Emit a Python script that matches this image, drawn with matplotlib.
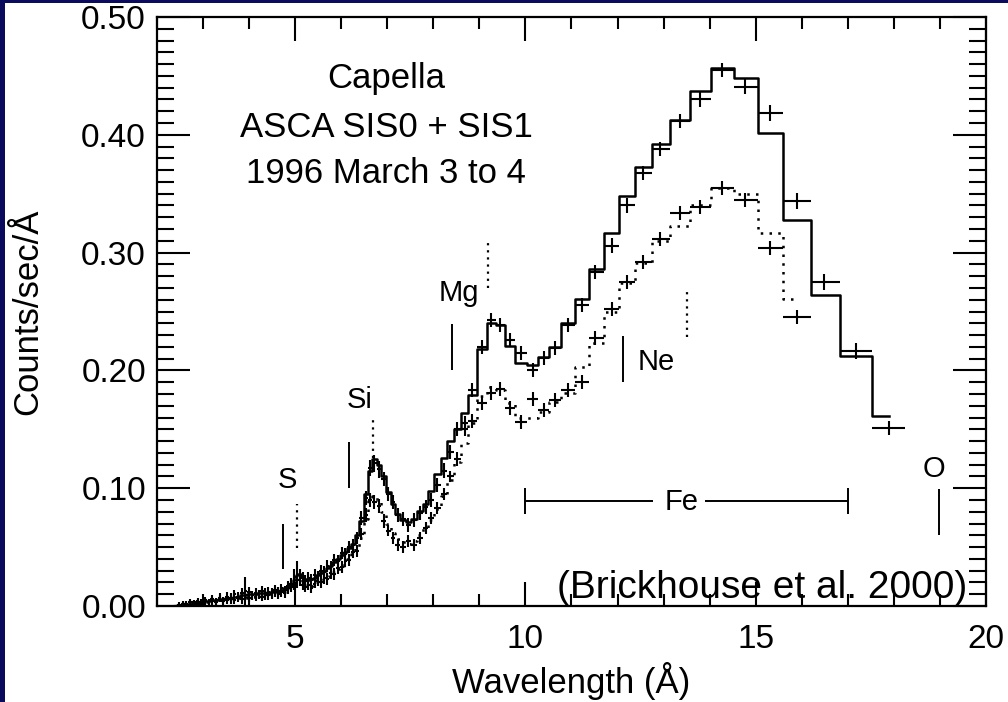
import numpy as np
import matplotlib.pyplot as plt
from matplotlib.patches import Rectangle

plt.rcParams['font.family'] = ['Liberation Sans', 'DejaVu Sans']

# bin centres (Angstrom)
wave = [2.40, 2.48, 2.56, 2.64, 2.72, 2.80, 2.88, 2.96, 3.04, 3.12,
        3.20, 3.28, 3.36, 3.44, 3.52, 3.60, 3.68, 3.76, 3.84, 3.92,
        4.00, 4.07, 4.14, 4.21, 4.28, 4.35, 4.42, 4.49, 4.56, 4.63,
        4.70, 4.77, 4.84, 4.91, 4.98, 5.04, 5.10, 5.16, 5.22, 5.28,
        5.35, 5.42, 5.49, 5.56, 5.63, 5.70, 5.77, 5.85, 5.93, 6.01,
        6.09, 6.17, 6.26, 6.35, 6.44, 6.53, 6.62, 6.72, 6.82, 6.92,
        7.02, 7.12, 7.23, 7.34, 7.46, 7.58, 7.70, 7.83, 7.96, 8.09,
        8.23, 8.37, 8.52, 8.68, 8.84, 9.06, 9.25, 9.45, 9.66, 9.90,
        10.16, 10.40, 10.64, 10.92, 11.23, 11.51, 11.88, 12.20, 12.55, 12.93,
        13.35, 13.78, 14.27, 14.77, 15.31, 15.89, 16.49, 17.17, 17.89]

# upper spectrum: data, errors, model
sis_hi = [0.000, 0.001, 0.002, 0.001, 0.003, 0.002, 0.004, 0.003, 0.005, 0.003,
          0.006, 0.004, 0.007, 0.005, 0.008, 0.006, 0.010, 0.007, 0.011, 0.013,
          0.012, 0.009, 0.011, 0.010, 0.013, 0.009, 0.012, 0.011, 0.014, 0.012,
          0.015, 0.013, 0.017, 0.019, 0.025, 0.030, 0.026, 0.024, 0.021, 0.024,
          0.022, 0.026, 0.025, 0.030, 0.029, 0.034, 0.033, 0.039, 0.038, 0.045,
          0.044, 0.050, 0.052, 0.058, 0.075, 0.092, 0.117, 0.121, 0.116, 0.108,
          0.095, 0.088, 0.077, 0.074, 0.069, 0.073, 0.079, 0.084, 0.090, 0.103,
          0.115, 0.131, 0.150, 0.155, 0.183, 0.220, 0.243, 0.2385, 0.226, 0.2148,
          0.200, 0.2105, 0.219, 0.2385, 0.2555, 0.2835, 0.306, 0.340, 0.3676, 0.388,
          0.4117, 0.430, 0.455, 0.441, 0.4185, 0.3438, 0.275, 0.2165, 0.151]
sis_hi_err = [0.001, 0.002, 0.002, 0.002, 0.003, 0.002, 0.003, 0.003, 0.003, 0.003,
              0.003, 0.003, 0.004, 0.003, 0.004, 0.004, 0.004, 0.004, 0.004, 0.012,
              0.004, 0.004, 0.004, 0.004, 0.004, 0.004, 0.004, 0.004, 0.004, 0.004,
              0.004, 0.004, 0.004, 0.005, 0.006, 0.008, 0.005, 0.005, 0.005, 0.005,
              0.005, 0.005, 0.005, 0.005, 0.005, 0.005, 0.005, 0.005, 0.005, 0.005,
              0.005, 0.005, 0.005, 0.005, 0.006, 0.006, 0.007, 0.007, 0.007, 0.006,
              0.006, 0.006, 0.006, 0.006, 0.006, 0.006, 0.006, 0.006, 0.006, 0.006,
              0.006, 0.006, 0.006, 0.006, 0.006, 0.006, 0.006, 0.006, 0.006, 0.006,
              0.006, 0.006, 0.006, 0.006, 0.006, 0.006, 0.006, 0.006, 0.006, 0.006,
              0.006, 0.006, 0.006, 0.006, 0.007, 0.007, 0.007, 0.007, 0.006]
model_hi = [0.000, 0.001, 0.001, 0.002, 0.002, 0.002, 0.003, 0.003, 0.004, 0.004,
            0.005, 0.005, 0.006, 0.006, 0.007, 0.007, 0.008, 0.008, 0.009, 0.009,
            0.010, 0.010, 0.010, 0.011, 0.011, 0.011, 0.012, 0.012, 0.013, 0.013,
            0.014, 0.015, 0.016, 0.018, 0.022, 0.026, 0.027, 0.025, 0.023, 0.022,
            0.023, 0.024, 0.026, 0.028, 0.030, 0.032, 0.034, 0.037, 0.040, 0.043,
            0.046, 0.049, 0.053, 0.060, 0.072, 0.095, 0.115, 0.1245, 0.120, 0.110,
            0.097, 0.087, 0.078, 0.073, 0.071, 0.074, 0.081, 0.087, 0.098, 0.112,
            0.126, 0.140, 0.150, 0.164, 0.179, 0.218, 0.240, 0.2385, 0.2207, 0.206,
            0.2045, 0.2115, 0.220, 0.240, 0.261, 0.286, 0.3166, 0.348, 0.3727, 0.392,
            0.4126, 0.437, 0.4567, 0.448, 0.4015, 0.3277, 0.264, 0.2122, 0.161]

# lower spectrum: data, errors, model (ends at 15.89 A)
sis_lo = [0.000, 0.000, 0.001, 0.002, 0.001, 0.003, 0.002, 0.002, 0.004, 0.003,
          0.004, 0.003, 0.006, 0.004, 0.005, 0.007, 0.005, 0.008, 0.006, 0.009,
          0.007, 0.009, 0.008, 0.010, 0.008, 0.011, 0.009, 0.010, 0.012, 0.010,
          0.012, 0.011, 0.014, 0.016, 0.019, 0.020, 0.022, 0.018, 0.016, 0.018,
          0.015, 0.019, 0.021, 0.020, 0.024, 0.023, 0.028, 0.027, 0.032, 0.033,
          0.038, 0.039, 0.046, 0.047, 0.061, 0.077, 0.090, 0.088, 0.085, 0.072,
          0.064, 0.058, 0.052, 0.050, 0.055, 0.052, 0.058, 0.066, 0.075, 0.083,
          0.095, 0.110, 0.125, 0.150, 0.157, 0.172, 0.181, 0.184, 0.168, 0.156,
          0.1757, 0.1664, 0.1749, 0.1834, 0.190, 0.2275, 0.252, 0.275, 0.292, 0.3115,
          0.3336, 0.3387, 0.3548, 0.3447, 0.304, 0.2453]
sis_lo_err = [0.001, 0.001, 0.002, 0.002, 0.002, 0.002, 0.003, 0.002, 0.003, 0.003,
              0.003, 0.003, 0.003, 0.003, 0.003, 0.004, 0.003, 0.004, 0.004, 0.004,
              0.004, 0.004, 0.004, 0.004, 0.004, 0.004, 0.004, 0.004, 0.004, 0.004,
              0.004, 0.004, 0.004, 0.004, 0.005, 0.005, 0.005, 0.004, 0.004, 0.004,
              0.004, 0.004, 0.004, 0.005, 0.005, 0.005, 0.005, 0.005, 0.005, 0.005,
              0.005, 0.005, 0.005, 0.005, 0.005, 0.006, 0.006, 0.006, 0.006, 0.006,
              0.005, 0.005, 0.005, 0.005, 0.005, 0.005, 0.005, 0.005, 0.005, 0.005,
              0.005, 0.005, 0.006, 0.006, 0.006, 0.006, 0.006, 0.006, 0.006, 0.006,
              0.006, 0.006, 0.006, 0.006, 0.006, 0.006, 0.006, 0.006, 0.006, 0.006,
              0.006, 0.006, 0.006, 0.006, 0.006, 0.006]
model_lo = [0.000, 0.001, 0.001, 0.001, 0.002, 0.002, 0.002, 0.003, 0.003, 0.003,
            0.004, 0.004, 0.005, 0.005, 0.005, 0.006, 0.006, 0.007, 0.007, 0.007,
            0.008, 0.008, 0.008, 0.009, 0.009, 0.009, 0.010, 0.010, 0.010, 0.011,
            0.011, 0.012, 0.013, 0.015, 0.018, 0.021, 0.021, 0.020, 0.018, 0.017,
            0.017, 0.018, 0.020, 0.021, 0.023, 0.025, 0.027, 0.029, 0.031, 0.034,
            0.037, 0.040, 0.044, 0.049, 0.058, 0.074, 0.089, 0.093, 0.090, 0.080,
            0.070, 0.062, 0.057, 0.054, 0.053, 0.055, 0.060, 0.066, 0.073, 0.082,
            0.093, 0.107, 0.122, 0.138, 0.155, 0.178, 0.186, 0.183, 0.172, 0.160,
            0.160, 0.165, 0.173, 0.181, 0.203, 0.223, 0.250, 0.274, 0.291, 0.310,
            0.3226, 0.340, 0.355, 0.350, 0.317, 0.261]

# line identifications
ion_names = ['S', 'Si', 'Mg', 'Ne', 'O']
ion_text_x = [4.82, 6.41, 8.56, 12.83, 18.87]
ion_text_y = [0.100, 0.168, 0.259, 0.200, 0.1095]
solid_x = [4.74, 6.17, 8.41, 12.12, 18.98]
solid_y0 = [0.031, 0.100, 0.200, 0.190, 0.060]
solid_y1 = [0.070, 0.139, 0.239, 0.229, 0.099]
dotted_x = [5.04, 6.69, 9.19, 13.50]
dotted_y0 = [0.049, 0.126, 0.270, 0.228]
dotted_y1 = [0.087, 0.158, 0.308, 0.268]

title_lines = ['Capella', 'ASCA SIS0 + SIS1', '1996 March 3 to 4']
title_y = [0.4397, 0.398, 0.359]

W, H = 1008, 702
navy = '#0b0b5e'
fig = plt.figure(figsize=(W / 100, H / 100), dpi=100)

# full-size backdrop: navy frame on the left and top, white page elsewhere
bg = fig.add_axes([0, 0, 1, 1], zorder=-10)
bg.set_xlim(0, W)
bg.set_ylim(H, 0)
bg.axis('off')
bg.add_patch(Rectangle((0, 0), W, H, facecolor=navy, edgecolor='none'))
bg.add_patch(Rectangle((5, 3), W - 5, H - 3, facecolor='white', edgecolor='none'))

ax = fig.add_axes([157 / W, (H - 606) / H, (986 - 157) / W, (606 - 17) / H])

w = np.array(wave)
mid = (w[1:] + w[:-1]) / 2
lo_edge = np.concatenate([[w[0] - (mid[0] - w[0])], mid])
hi_edge = np.concatenate([mid, [w[-1] + (w[-1] - mid[-1])]])
xerr = np.array([w - lo_edge, hi_edge - w])
n_lo = len(sis_lo)

ax.errorbar(w, sis_hi, xerr=xerr, yerr=sis_hi_err, fmt='none',
            ecolor='k', elinewidth=1.5, capsize=0)
ax.errorbar(w[:n_lo], sis_lo, xerr=xerr[:, :n_lo], yerr=sis_lo_err, fmt='none',
            ecolor='k', elinewidth=1.5, capsize=0)
ax.step(w, model_hi, where='mid', color='k', lw=1.8)
ax.step(w[:n_lo], model_lo, where='mid', color='k', lw=1.8,
        linestyle=(0, (1, 2.5)))

ax.vlines(solid_x, solid_y0, solid_y1, colors='k', lw=1.4)
ax.vlines(dotted_x, dotted_y0, dotted_y1, colors='k', lw=1.6,
          linestyles=[(0, (1, 2.2))])
for name, tx, ty in zip(ion_names, ion_text_x, ion_text_y):
    ax.text(tx, ty, name, fontsize=21, ha='center', va='baseline')

# Fe band
ax.hlines(0.089, 10.0, 12.77, colors='k', lw=1.4)
ax.hlines(0.089, 13.9, 17.0, colors='k', lw=1.4)
ax.vlines([10.0, 17.0], 0.078, 0.100, colors='k', lw=1.4)
ax.text(13.40, 0.0815, 'Fe', fontsize=21, ha='center', va='baseline')

for line, ty in zip(title_lines, title_y):
    ax.text(6.98, ty, line, fontsize=25, ha='center', va='baseline')
ax.text(19.59, 0.0068, '(Brickhouse et al. 2000)', fontsize=28,
        ha='right', va='baseline')

ax.set_xlim(2, 20)
ax.set_ylim(0, 0.5)
ax.set_xticks([5, 10, 15, 20])
ax.set_xticks(np.arange(2, 21, 1), minor=True)
ax.set_yticks([0.0, 0.1, 0.2, 0.3, 0.4, 0.5])
ax.set_yticks(np.arange(0, 0.501, 0.01), minor=True)
ax.set_yticklabels(['0.00', '0.10', '0.20', '0.30', '0.40', '0.50'])
ax.tick_params(which='both', direction='in', top=True, right=True,
               labelsize=24, width=1.5, colors='k')
ax.tick_params(axis='x', which='major', length=17.5, pad=13)
ax.tick_params(axis='x', which='minor', length=8.8)
ax.tick_params(axis='y', which='major', length=24, pad=8)
ax.tick_params(axis='y', which='minor', length=12)
for sp in ax.spines.values():
    sp.set_linewidth(1.6)

ax.set_xlabel('Wavelength (Å)', fontsize=25)
ax.set_ylabel('Counts/sec/Å', fontsize=25)
ax.xaxis.set_label_coords(0.5, (606 - 662) / (606 - 17))
ax.yaxis.set_label_coords((44 - 157) / (986 - 157), 0.5)

fig.savefig('out.png', dpi=100)
